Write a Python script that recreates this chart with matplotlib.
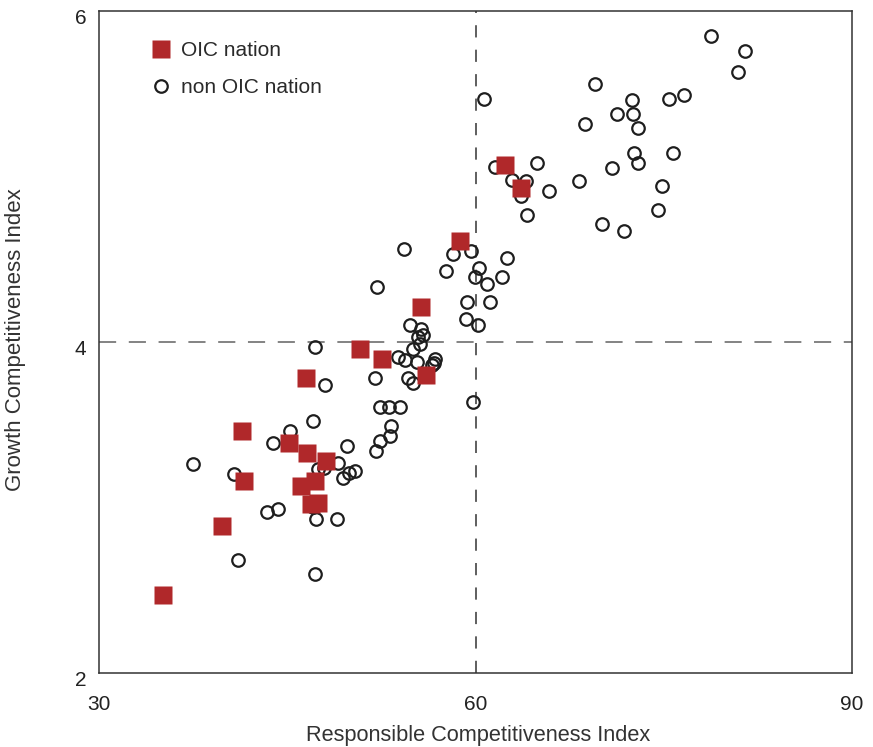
import matplotlib
matplotlib.use('Agg')
import matplotlib.pyplot as plt
import matplotlib.transforms as mtransforms

# OIC nations (Responsible CI, Growth CI)
oic_rci = [35.1, 39.8, 41.55, 41.4, 45.1, 46.6, 46.1, 47.2, 46.9, 47.45,
           48.1, 46.5, 50.8, 52.55, 56.05, 55.66, 58.8, 62.35, 63.6]
oic_gci = [2.47, 2.89, 3.16, 3.46, 3.39, 3.33, 3.13, 3.16, 3.02, 3.03,
           3.28, 3.78, 3.96, 3.90, 3.80, 4.21, 4.61, 5.07, 4.93]

# non OIC nations
non_rci = [48.01, 47.05, 52.4, 53.1, 53.98, 45.22, 43.86, 49.76, 53.27, 52.39,
           53.19, 52.07, 49.04, 47.45, 47.93, 37.49, 40.76, 49.44, 49.92, 50.40,
           43.39, 44.26, 47.29, 48.96, 47.05, 41.08, 47.21, 54.30, 52.15, 58.21,
           59.64, 60.28, 57.65, 59.96, 60.92, 62.51, 62.11, 61.16, 59.32, 59.24,
           60.20, 54.78, 55.66, 55.82, 55.42, 55.58, 55.02, 47.21, 53.82, 54.38,
           55.34, 56.77, 56.69, 56.53, 51.99, 54.62, 55.02, 59.80, 60.68, 69.52,
           72.47, 75.42, 76.61, 72.55, 71.27, 68.73, 72.95, 72.63, 72.95, 75.74,
           70.88, 68.25, 74.86, 74.54, 70.08, 71.83, 61.55, 64.90, 62.91, 64.02,
           63.63, 65.86, 64.10, 78.76, 81.47, 80.92]
non_gci = [3.74, 3.52, 3.61, 3.61, 3.61, 3.46, 3.39, 3.37, 3.49, 3.40,
           3.43, 3.34, 3.27, 3.23, 3.24, 3.26, 3.20, 3.18, 3.21, 3.22,
           2.97, 2.99, 2.93, 2.93, 3.00, 2.68, 2.60, 4.56, 4.33, 4.53,
           4.55, 4.45, 4.43, 4.39, 4.35, 4.51, 4.39, 4.24, 4.24, 4.14,
           4.10, 4.10, 4.08, 4.04, 4.03, 3.99, 3.96, 3.97, 3.91, 3.89,
           3.88, 3.90, 3.87, 3.86, 3.78, 3.78, 3.75, 3.64, 5.47, 5.56,
           5.46, 5.47, 5.49, 5.38, 5.38, 5.32, 5.29, 5.14, 5.08, 5.14,
           5.05, 4.97, 4.94, 4.80, 4.71, 4.67, 5.06, 5.08, 4.98, 4.97,
           4.88, 4.91, 4.77, 5.85, 5.76, 5.63]

x_ticks = [30, 60, 90]
y_ticks = [2, 4, 6]

plt.rcParams['font.family'] = ['Liberation Sans', 'DejaVu Sans']

fig = plt.figure(figsize=(8.73, 7.47), dpi=100)
ax = fig.add_axes([0.1134, 0.0991, 0.8626, 0.8862])

red = '#b0282a'

ax.axhline(4, color='#7a7a7a', lw=1.3, dashes=(9.5, 7), zorder=1)
ax.axvline(60, color='#333333', lw=1.1, dashes=(8, 8), zorder=1)

ax.plot(non_rci, non_gci, 'o', ms=9, mfc='none', mec='#1e1e1e', mew=1.6,
        label='non OIC nation', zorder=2)
ax.plot(oic_rci, oic_gci, 's', ms=12.5, color=red, mec='none',
        label='OIC nation', zorder=3)

ax.set_xlim(30, 90)
ax.set_ylim(2, 6)
ax.set_xticks(x_ticks)
ax.set_yticks(y_ticks)
ax.tick_params(length=0, labelsize=15, labelcolor='#222222')
ax.tick_params(axis='x', pad=16)
ax.tick_params(axis='y', pad=9)

# y tick labels sit a little below their values
offset = mtransforms.ScaledTranslation(0, -6 / 100, fig.dpi_scale_trans)
for lab in ax.get_yticklabels():
    lab.set_transform(lab.get_transform() + offset)

for s in ax.spines.values():
    s.set_color('#333333')
    s.set_linewidth(1.1)

handles, labels = ax.get_legend_handles_labels()
ax.legend(handles[::-1], labels[::-1], loc='upper left', frameon=False,
          bbox_to_anchor=(0.055, 0.97), fontsize=15, handlelength=1.0,
          handletextpad=0.45, labelspacing=0.85, borderpad=0,
          labelcolor='#2a2a2a')

fig.text(0.5475, 0.016, 'Responsible Competitiveness Index', ha='center',
         va='center', fontsize=15.7, color='#333333')
fig.text(0.0172, 0.545, 'Growth Competitiveness Index', ha='center',
         va='center', rotation=90, fontsize=16, color='#333333')

fig.savefig('out.png', dpi=100)
